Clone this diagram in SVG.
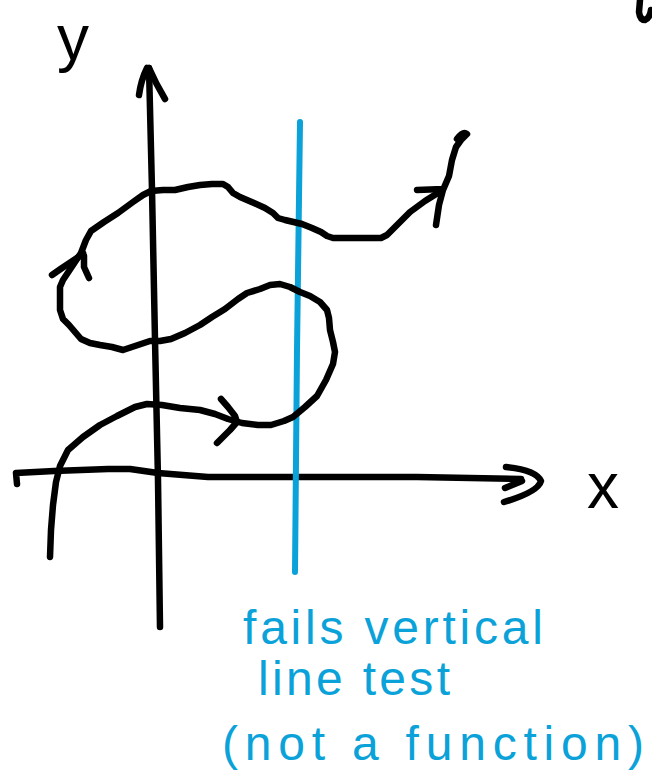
<svg xmlns="http://www.w3.org/2000/svg" width="652" height="775" viewBox="0 0 652 775">
<style>
.ink{fill:none;stroke:#000;stroke-width:6.5;stroke-linecap:round;stroke-linejoin:round}
.blue{fill:none;stroke:#0aa2d8;stroke-width:6;stroke-linecap:round}
.lbl{font-family:"Liberation Sans",Arial,sans-serif;fill:#000}
.note{font-family:"Liberation Sans",Arial,sans-serif;fill:#0aa2d8;font-size:48px}
</style>
<rect width="652" height="775" fill="#fff"/>
<g id="stray">
<path class="ink" d="M640,0 L639,12 Q640,20 645,20 Q650,18 651,10"/>
</g>
<g id="axes">
<path id="y-axis" class="ink" d="M149,68 L152,190 L155,340 L158,480 L160,627"/>
<path class="ink" d="M147,68 Q141,80 139,95 M149,68 Q156,84 165,99"/>
<path id="x-axis" class="ink" d="M17,484 L16,473 L54,471 L108,469 L130,469 L158,473 L208,477 L300,477 L417,477 L521,479"/>
<path class="ink" d="M506,467 Q536,470 541,481 Q538,492 504,502 M505,488 L522,481"/>
</g>
<g id="vertical-line">
<path class="blue" d="M300,122 L297,350 L295,572"/>
</g>
<g id="curve">
<polyline class="ink" points="50,557 51,530 53,505 56,482 60,466 68,450 83,437 100,425 117,416 135,407 147,404 162,405 180,408 200,410 215,414 228,419 242,423 258,425 271,425 284,421 293,417 305,407 317,396 326,380 333,364 335,352 333,342 330,330 329,318 327,310 320,302 310,296 300,292 290,287 280,284 270,285 260,289 247,293 238,299 225,309 212,317 200,325 185,333 171,339 160,341 150,341 138,345 123,350 112,347 100,345 90,343 81,339 75,332 69,325 63,319 60,310 60,300 60,287 63,280 69,271 75,262 81,253 86,240 91,231 104,222 118,213 133,202 143,195 151,191 163,190 175,190 188,187 200,185 212,184 223,184 228,187 233,193 240,197 254,203 265,208 273,213 278,218 285,220 302,224 312,228 321,232 327,236 333,238 350,238 365,238 381,238 387,235 395,227 410,212 425,201 441,191"/>
<path class="ink" d="M417,190 L443,189 M436,225 L439,205 L443,190 L449,176 L452,160 L456,147 L461,140 L467,134 Q463,131 457,139"/>
<path class="ink" d="M52,275 L62,268 L77,258 L83,253 M84,256 L84,267 L89,278"/>
<path class="ink" d="M221,399 L228,407 L235,416 L237,422 L230,430 L217,443"/>
</g>
<g id="labels">
<text class="lbl" x="57" y="60" font-size="64">y</text>
<text class="lbl" x="587" y="508" font-size="64">x</text>
<text class="note" x="243" y="644" textLength="300" lengthAdjust="spacing">fails vertical</text>
<text class="note" x="258" y="695" textLength="192" lengthAdjust="spacing">line test</text>
<text class="note" x="222" y="760" textLength="422" lengthAdjust="spacing">(not a function)</text>
</g>
</svg>
